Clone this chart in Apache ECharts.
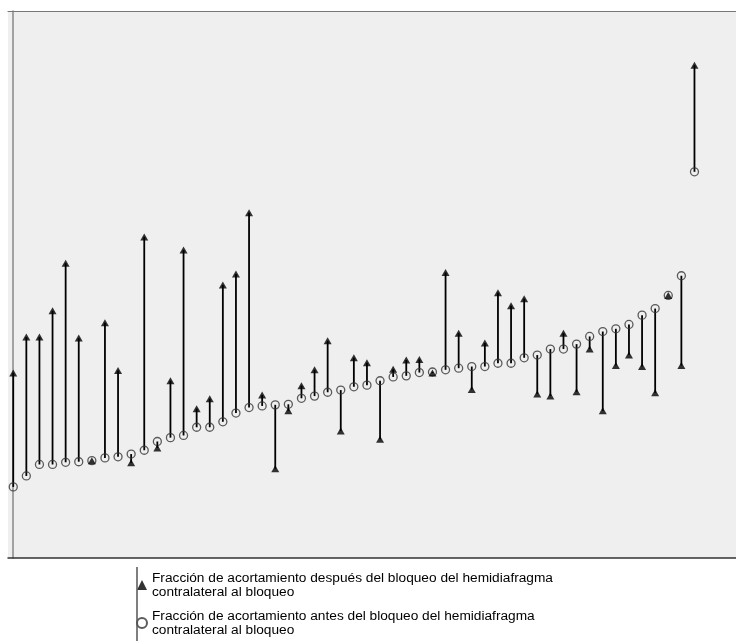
<!DOCTYPE html>
<html>
<head>
<meta charset="utf-8">
<script src="https://cdn.jsdelivr.net/npm/echarts@6/dist/echarts.min.js"></script>
<style>
  html, body { margin: 0; padding: 0; background: #fff; }
  #chart { width: 736px; height: 644px; }
</style>
</head>
<body>
<div id="chart"></div>
<script>
// Patients ordered by shortening fraction before the block
const patients = [
  0, 1, 2, 3, 4, 5, 6, 7, 8, 9, 10, 11, 12, 13, 14, 15, 16, 17, 18, 19, 20,
  21, 22, 23, 24, 25, 26, 27, 28, 29, 30, 31, 32, 33, 34, 35, 36, 37, 38, 39,
  40, 41, 42, 43, 44, 45, 46, 47, 48, 49, 50, 51, 52
];

// Shortening fraction before the block (hollow circles)
const antes = [
  13.0, 15.0, 17.1, 17.1, 17.5, 17.6, 17.8, 18.3, 18.5, 19.0, 19.7, 21.3, 22.0,
  22.4, 23.9, 23.9, 24.9, 26.5, 27.5, 27.8, 28.0, 28.1, 29.2, 29.6, 30.3, 30.7,
  31.3, 31.6, 32.4, 33.1, 33.3, 33.9, 34.0, 34.4, 34.7, 35.0, 35.0, 35.6, 35.6,
  36.6, 37.1, 38.2, 38.2, 39.1, 40.5, 41.4, 41.9, 42.7, 44.4, 45.6, 48.0, 51.6,
  70.6
];

// Shortening fraction after the block (filled triangles)
const despues = [
  33.8, 40.4, 40.4, 45.2, 53.9, 40.2, 17.8, 43.0, 34.3, 17.4, 58.7, 20.1, 32.4,
  56.3, 27.3, 29.1, 49.9, 51.9, 63.1, 29.8, 16.3, 26.9, 31.5, 34.4, 39.7, 23.2,
  36.6, 35.7, 21.7, 34.5, 36.2, 36.3, 33.8, 52.2, 41.1, 30.8, 39.3, 48.5, 46.1,
  47.4, 30.0, 29.6, 41.1, 30.4, 38.2, 26.9, 35.2, 37.1, 35.0, 30.2, 48.0, 35.2,
  90.1
];

const nombreDespues = 'Fracción de acortamiento después del bloqueo del hemidiafragma\ncontralateral al bloqueo';
const nombreAntes = 'Fracción de acortamiento antes del bloqueo del hemidiafragma\ncontralateral al bloqueo';

const segmentos = patients.map((p, i) => [p, antes[i], despues[i]]);
const puntosAntes = patients.map((p, i) => [p, antes[i]]);
const puntosDespues = patients.map((p, i) => [p, despues[i]]);

const chart = echarts.init(document.getElementById('chart'));

const xRange = { min: -0.4, max: 55.17 };

chart.setOption({
  animation: false,
  backgroundColor: '#ffffff',
  grid: {
    left: 8, right: 0, top: 11, bottom: 86,
    show: true, backgroundColor: '#efefef', borderWidth: 0
  },
  xAxis: [
    {
      type: 'value', position: 'bottom', min: xRange.min, max: xRange.max,
      axisLine: { show: true, onZero: false, lineStyle: { color: '#333', width: 1.5 } },
      axisTick: { show: false }, axisLabel: { show: false }, splitLine: { show: false }
    },
    {
      type: 'value', position: 'top', min: xRange.min, max: xRange.max,
      axisLine: { show: true, onZero: false, lineStyle: { color: '#777', width: 1.2 } },
      axisTick: { show: false }, axisLabel: { show: false }, splitLine: { show: false }
    }
  ],
  yAxis: {
    type: 'value', min: 0, max: 100,
    axisLine: { show: true, onZero: true, lineStyle: { color: '#888', width: 1.5 } },
    axisTick: { show: false }, axisLabel: { show: false }, splitLine: { show: false }
  },
  legend: {
    orient: 'vertical',
    left: 136, top: 571, width: 560, height: 74,
    padding: 0,
    itemWidth: 10, itemHeight: 10, itemGap: 10,
    selectedMode: false,
    data: [nombreDespues, nombreAntes],
    textStyle: {
      fontFamily: '"Liberation Sans", Arial, sans-serif',
      fontSize: 13.7, lineHeight: 14, color: '#000'
    }
  },
  graphic: [
    {
      type: 'line', z: 100,
      shape: { x1: 137, y1: 567, x2: 137, y2: 641 },
      style: { stroke: '#555', lineWidth: 1.5 }
    }
  ],
  series: [
    {
      type: 'custom',
      name: 'cambio',
      data: segmentos,
      encode: { x: 0, y: [1, 2] },
      z: 2,
      renderItem: function (params, api) {
        const a = api.coord([api.value(0), api.value(1)]);
        const b = api.coord([api.value(0), api.value(2)]);
        return {
          type: 'line',
          shape: { x1: a[0], y1: a[1], x2: b[0], y2: b[1] },
          style: { stroke: '#000', lineWidth: 1.8 }
        };
      }
    },
    {
      type: 'scatter',
      name: nombreAntes,
      data: puntosAntes,
      symbol: 'circle',
      symbolSize: 8,
      z: 3,
      itemStyle: { color: 'rgba(0,0,0,0)', borderColor: '#333', borderWidth: 1.3 }
    },
    {
      type: 'scatter',
      name: nombreDespues,
      data: puntosDespues,
      symbol: 'triangle',
      symbolSize: [8, 7],
      z: 4,
      itemStyle: { color: '#000' }
    }
  ]
});
</script>
</body>
</html>
